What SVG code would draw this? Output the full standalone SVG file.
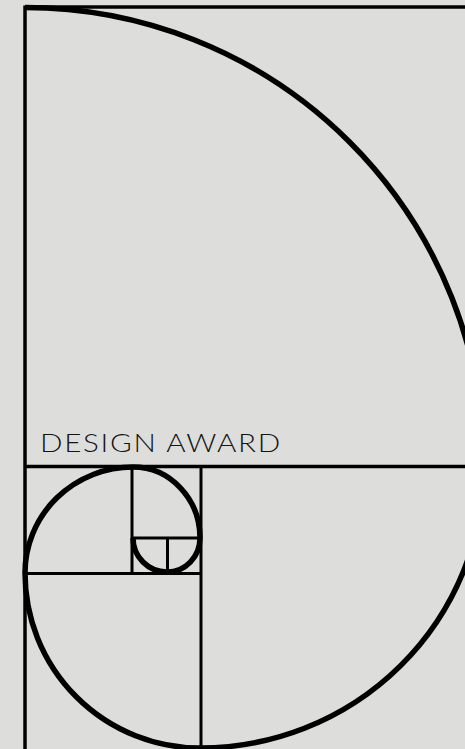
<svg xmlns="http://www.w3.org/2000/svg" width="465" height="749" viewBox="0 0 465 749">
  <style>
    .frame { fill: none; stroke: #000; stroke-width: 3.5; stroke-linecap: butt; }
    .grid { fill: none; stroke: #000; stroke-width: 3; }
    .spiral { fill: none; stroke: #000; stroke-width: 5.5; stroke-linecap: butt; }
    .label { font-family: Lato, "Liberation Sans", sans-serif; font-size: 26px; fill: #141414; font-weight: 300; letter-spacing: 1.5px; }
  </style>
  <rect width="465" height="749" fill="#dddddc"/>
  <g id="frame">
    <line class="frame" x1="25" y1="7" x2="465" y2="7"/>
    <line class="frame" x1="25" y1="5.5" x2="25" y2="749"/>
    <line class="frame" x1="25" y1="466.5" x2="465" y2="466.5"/>
    <line class="grid" x1="201" y1="466" x2="201" y2="749"/>
    <line class="grid" x1="25" y1="573.5" x2="201" y2="573.5"/>
    <line class="grid" x1="132" y1="466" x2="132" y2="573"/>
    <line class="grid" x1="132" y1="538" x2="201" y2="538"/>
    <line class="grid" x1="167.5" y1="538" x2="167.5" y2="573"/>
  </g>
  <g id="spiral">
    <path class="spiral" d="M25 7.5 A459 459 0 0 1 484 466.5 A284 282 0 0 1 200 748 A175 175 0 0 1 25 573 A108 106 0 0 1 133 467 A67 71 0 0 1 200 538 A33 34 0 0 1 167 572 A34 34 0 0 1 133 538"/>
  </g>
  <g id="title">
    <text class="label" x="40" y="452" textLength="242" lengthAdjust="spacingAndGlyphs">DESIGN AWARD</text>
  </g>
</svg>
